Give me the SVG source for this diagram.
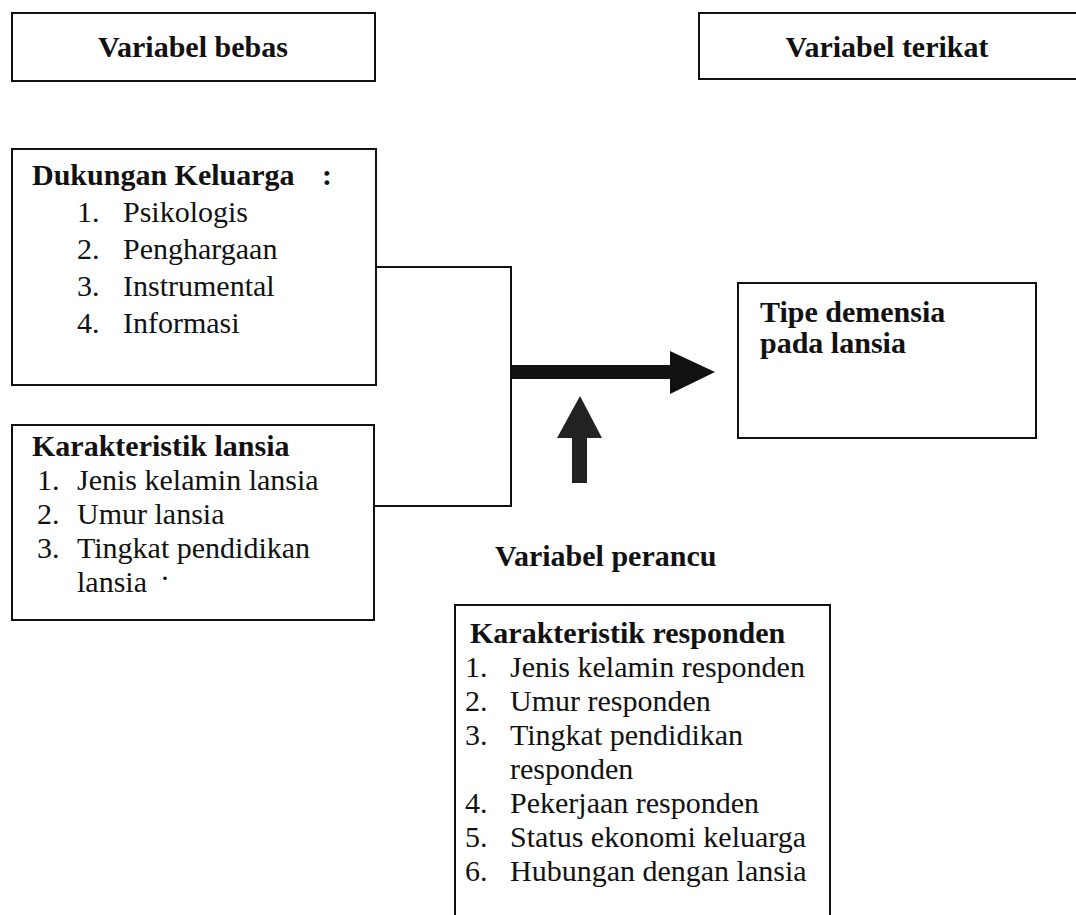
<svg xmlns="http://www.w3.org/2000/svg" width="1076" height="915" viewBox="0 0 1076 915">
<style>
.box{fill:none;stroke:#111;stroke-width:2}
.t{font-family:"Liberation Serif","Times New Roman",serif;font-size:30px;fill:#111}
.b{font-weight:bold}
.conn{fill:none;stroke:#111;stroke-width:2}
</style>
<rect x="0" y="0" width="1076" height="915" fill="#fff"/>
<g id="variabel-bebas">
<rect class="box" x="12" y="13" width="363" height="68"/>
<text class="t b" x="193" y="57" text-anchor="middle">Variabel bebas</text>
</g>
<g id="variabel-terikat">
<path class="box" d="M1080,13 H699 V79 H1080"/>
<text class="t b" x="887" y="57" text-anchor="middle">Variabel terikat</text>
</g>
<g id="dukungan-keluarga">
<rect class="box" x="12" y="149" width="364" height="236"/>
<text class="t b" x="32" y="185">Dukungan Keluarga</text>
<text class="t b" x="322" y="185">:</text>
<text class="t" x="77" y="222">1.</text><text class="t" x="123" y="222">Psikologis</text>
<text class="t" x="77" y="259">2.</text><text class="t" x="123" y="259">Penghargaan</text>
<text class="t" x="77" y="296">3.</text><text class="t" x="123" y="296">Instrumental</text>
<text class="t" x="77" y="333">4.</text><text class="t" x="123" y="333">Informasi</text>
</g>
<g id="karakteristik-lansia">
<rect class="box" x="12" y="425" width="362" height="195"/>
<text class="t b" x="32" y="456">Karakteristik lansia</text>
<text class="t" x="37" y="490">1.</text><text class="t" x="77" y="490">Jenis kelamin lansia</text>
<text class="t" x="37" y="524">2.</text><text class="t" x="77" y="524">Umur lansia</text>
<text class="t" x="37" y="558">3.</text><text class="t" x="77" y="558">Tingkat pendidikan</text>
<text class="t" x="77" y="592">lansia</text>
<text class="t" x="160" y="588" font-size="14">·</text>
</g>
<g id="tipe-demensia">
<rect class="box" x="738" y="283" width="298" height="155"/>
<text class="t b" x="760" y="322">Tipe demensia</text>
<text class="t b" x="760" y="353">pada lansia</text>
</g>
<g id="variabel-perancu">
<text class="t b" x="495" y="566">Variabel perancu</text>
</g>
<g id="karakteristik-responden">
<path class="box" d="M455,920 V605 H830 V920"/>
<text class="t b" x="470" y="643">Karakteristik responden</text>
<text class="t" x="465" y="677">1.</text><text class="t" x="510" y="677">Jenis kelamin responden</text>
<text class="t" x="465" y="711">2.</text><text class="t" x="510" y="711">Umur responden</text>
<text class="t" x="465" y="745">3.</text><text class="t" x="510" y="745">Tingkat pendidikan</text>
<text class="t" x="510" y="779">responden</text>
<text class="t" x="465" y="813">4.</text><text class="t" x="510" y="813">Pekerjaan responden</text>
<text class="t" x="465" y="847">5.</text><text class="t" x="510" y="847">Status ekonomi keluarga</text>
<text class="t" x="465" y="881">6.</text><text class="t" x="510" y="881">Hubungan dengan lansia</text>
</g>
<g id="connectors">
<path class="conn" d="M376,267 H511 V506 H374"/>
<polygon fill="#111" points="511,365 670,365 670,351 715,372 670,394 670,379 511,379"/>
<polygon fill="#222" points="572,483 572,438 557,438 580,396 602,438 587,438 587,483"/>
</g>
</svg>
